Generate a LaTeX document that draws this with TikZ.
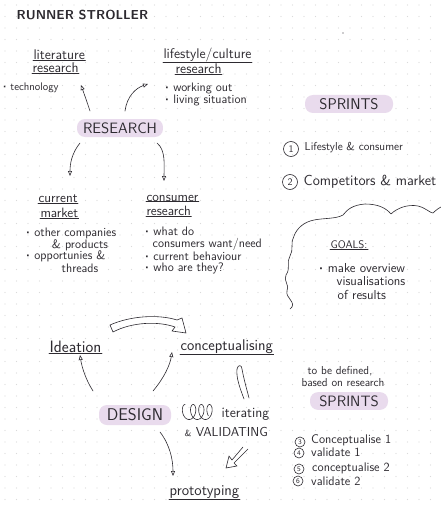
\documentclass[tikz,border=0pt]{standalone}
\usetikzlibrary{arrows.meta,calc}
\definecolor{inkc}{RGB}{45,42,48}
\definecolor{pillc}{RGB}{233,219,237}
\definecolor{dotc}{RGB}{218,218,218}
\newcommand{\bul}{\raisebox{0.35ex}{\scalebox{0.5}{\textbullet}}\ }
\newcommand{\fs}[1]{\fontsize{#1}{#1}\selectfont}
\begin{document}
\begin{tikzpicture}[x=1pt,y=-1pt,
  ink/.style={draw=inkc, line width=0.6pt, line cap=round, line join=round},
  txt/.style={text=inkc, font=\sffamily\fs{12.3}, inner sep=0.5pt, anchor=west},
  ctxt/.style={txt, anchor=center},
  big/.style={font=\sffamily\fs{14}, inner sep=0.3pt},
  pill/.style={fill=pillc, rounded corners=8pt, text=inkc, font=\sffamily\fs{15}, minimum height=18pt, inner xsep=6pt},
  arr/.style={ink, -{Triangle[open,length=5pt,width=4pt]}},
  numc/.style={circle, draw=inkc, line width=0.6pt, inner sep=0pt, minimum size=15pt, text=inkc, font=\sffamily\fs{10}},
  nums/.style={numc, minimum size=10pt, font=\sffamily\fs{7}}
]
\useasboundingbox (0,0) rectangle (441,508);
\fill[white] (0,0) rectangle (441,508);
\foreach \i in {0,...,38} \foreach \j in {0,...,44}
  \fill[dotc] (5+\i*11.5, 5+\j*11.5) circle (0.55pt);
\fill[inkc] (343,33) circle (0.7pt);

% title
\node[txt, font=\sffamily\bfseries\fs{13}] (title) at (16,15) {RUNNER STROLLER};

% research part
\node[pill, minimum width=80pt] (research) at (120,128) {RESEARCH};
\node[txt, big] (lit1) at (33,55) {literature};
\node[txt, big] (lit2) at (32,68) {research};
\node[txt, big] (life1) at (163,55) {lifestyle/culture};
\node[txt, big] (life2) at (175,69) {research};
\foreach \n in {lit1,lit2,life1,life2} \draw[ink] (\n.south west) -- (\n.south east);
\node[txt, font=\sffamily\fs{11}] (tech) at (2,88) {\bul technology};
\node[txt] (work) at (164,88) {\bul working out};
\node[txt] (living) at (164,100) {\bul living situation};

\coordinate (a1s) at (90,111); \coordinate (a1e) at (81,85);
\coordinate (a2s) at (125,111); \coordinate (a2e) at (148,84);
\coordinate (a3s) at (80,143); \coordinate (a3e) at (70,176);
\coordinate (a4s) at (157,143); \coordinate (a4e) at (164,181);
\draw[arr] (a1s) .. controls (87,102) .. (a1e);
\draw[arr] (a2s) .. controls (127,96) and (136,88) .. (a2e);
\draw[arr] (a3s) .. controls (72,153) and (70,163) .. (a3e);
\draw[arr] (a4s) .. controls (166,150) and (164,166) .. (a4e);

\node[txt, big, font=\sffamily\fs{13.5}] (mk1) at (38,199) {current};
\node[txt, big, font=\sffamily\fs{13.5}] (mk2) at (40,213) {market};
\node[txt, big, font=\sffamily\fs{13.5}] (cs1) at (146,198) {consumer};
\node[txt, big, font=\sffamily\fs{13.5}] (cs2) at (146,211) {research};
\foreach \n in {mk1,mk2,cs1,cs2} \draw[ink] (\n.south west) -- (\n.south east);

\node[txt] (o1) at (25,233) {\bul other companies};
\node[ctxt] (o2) at (80,245) {\& products};
\node[txt] (o3) at (25,256) {\bul opportunies \&};
\node[ctxt] (o4) at (80,268) {threads};
\node[txt] (w1) at (144,231) {\bul what do};
\node[txt] (w2) at (152,244) {consumers want/need};
\node[txt] (w3) at (144,256) {\bul current behaviour};
\node[txt] (w4) at (144,268) {\bul who are they?};

% sprints 1
\node[pill, minimum width=88pt, font=\sffamily\fs{15.5}] (sprints1) at (349,104) {SPRINTS};
\node[numc] (n1) at (291,149) {1};
\node[txt, font=\sffamily\fs{11.5}] (s1) at (304,148) {Lifestyle \& consumer};
\node[numc] (n2) at (290,182) {2};
\node[txt, font=\sffamily\fs{14.5}] (s2) at (303,182) {Competitors \& market};

% cloud
\draw[ink] (290,309) .. controls (298,303) and (285,298) .. (287,291)
  .. controls (290,285) and (283,281) .. (286,275)
  .. controls (291,268) and (286,262) .. (290,256)
  .. controls (294,250) and (290,242) .. (294,236)
  .. controls (297,228) and (304,222) .. (314,220)
  .. controls (324,218) and (336,219) .. (343,215)
  .. controls (347,210) and (352,205) .. (365,204)
  .. controls (378,204) and (386,208) .. (391,214)
  .. controls (397,208) and (408,204) .. (418,206)
  .. controls (426,208) and (430,213) .. (433,213)
  .. controls (436,210) and (439,208) .. (441,207);
\node[txt, font=\sffamily\fs{11}] (goals) at (330,245) {GOALS:};
\draw[ink] (goals.south west) -- (goals.south east);
\node[txt, font=\sffamily\fs{13}] (g1) at (318,268) {\bul make overview};
\node[txt, font=\sffamily\fs{13}] (g2) at (336,281) {visualisations};
\node[txt, font=\sffamily\fs{13}] (g3) at (337,295) {of results};

% design part
\draw[ink] (110,325) .. controls (130,316) and (158,314) .. (177,320)
  -- (182,318) -- (186,333) -- (172,331) -- (175,327)
  .. controls (158,321) and (132,322) .. (113,332) -- cycle;
\node[txt, font=\sffamily\fs{16.5}] (idea) at (49,347) {Ideation};
\node[txt, font=\sffamily\fs{15.5}] (concept) at (180,347) {conceptualising};
\draw[ink] (idea.south west) -- (idea.south east);
\draw[ink] (concept.south west) -- (concept.south east);
\node[pill, minimum width=72pt, font=\sffamily\fs{17}, minimum height=20pt] (design) at (135,415) {DESIGN};

\coordinate (d1s) at (93,391); \coordinate (d1e) at (80,355);
\coordinate (d2s) at (153,391); \coordinate (d2e) at (172,352);
\coordinate (d3s) at (160,432); \coordinate (d3e) at (173,476);
\draw[arr] (d1s) .. controls (86,380) and (82,368) .. (d1e);
\draw[arr] (d2s) .. controls (164,378) and (170,365) .. (d2e);
\draw[arr] (d3s) .. controls (170,445) and (173,460) .. (d3e);

% iterating
\draw[ink] plot[domain=0:1200, samples=150] ({185 + 1.3*\x*pi/180 - 4.5*sin(\x)}, {412 - 7.5*cos(\x)});
\node[txt, font=\sffamily\fs{14}] (iter) at (221,414) {iterating};
\node[txt, font=\sffamily\fs{13}] (valid) at (184,432) {{\fs{9}\&} VALIDATING};
\coordinate (l1) at (244,399);
\draw[ink] (l1) .. controls (240,388) and (236,378) .. (237,369)
  .. controls (238,364) and (242,365) .. (242,369)
  .. controls (244,380) and (247,390) .. (249,398);
\draw[ink] (243,447) -- (232,460) -- (229,456) -- (226,468) -- (237,466) -- (234,463) -- (248,449);
\node[txt, font=\sffamily\fs{15}] (proto) at (169,492) {prototyping};
\draw[ink] (proto.south west) -- (proto.south east);

% sprints 2
\node[ctxt, font=\sffamily\fs{11.5}] (tbd1) at (340,371) {to be defined,};
\node[ctxt, font=\sffamily\fs{11.5}] (tbd2) at (343,383) {based on research};
\node[pill, minimum width=78pt, minimum height=16pt] (sprints2) at (349,401) {SPRINTS};
\node[nums] (n3) at (300,442) {3};
\node[txt, font=\sffamily\fs{12.5}, inner sep=0pt] (s3) at (311,440) {Conceptualise 1};
\node[nums] (n4) at (299,453) {4};
\node[txt, font=\sffamily\fs{12.5}, inner sep=0pt] (s4) at (311,452) {validate 1};
\node[nums] (n5) at (299,469) {5};
\node[txt, font=\sffamily\fs{12.5}, inner sep=0pt] (s5) at (312,468) {conceptualise 2};
\node[nums] (n6) at (298,481) {6};
\node[txt, font=\sffamily\fs{12.5}, inner sep=0pt] (s6) at (311,481) {validate 2};
\end{tikzpicture}
\end{document}
